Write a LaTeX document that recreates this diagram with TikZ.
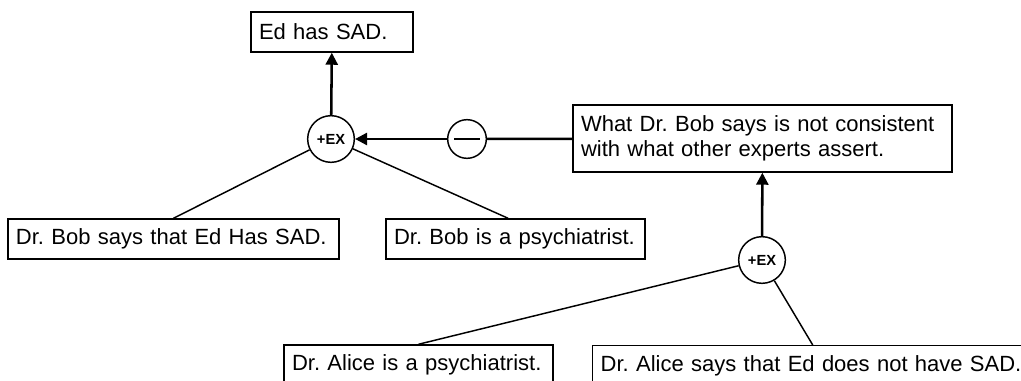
\documentclass[tikz,border=0pt]{standalone}
\usepackage{fontspec}
\setmainfont{Liberation Sans}
\usepackage{tikz}
\usetikzlibrary{positioning,shapes,arrows.meta}

\tikzset{
  claim/.style={draw, line width=1.1pt, rectangle, align=left, inner xsep=6pt,
    minimum height=30pt, font=\fontsize{16.5}{18.75}\selectfont\frenchspacing},
  plusex/.style={draw, circle, line width=1.1pt, fill=white, inner sep=0pt,
    minimum size=35pt, font=\fontsize{11}{12}\selectfont\bfseries},
  minus/.style={draw, circle, line width=1.1pt, fill=white, inner sep=0pt,
    minimum size=29pt, path picture={\draw[line width=1.1pt]
      ([xshift=-9.4pt]path picture bounding box.center) --
      ([xshift=9.4pt]path picture bounding box.center);}},
  support/.style={line width=1.9pt, -{Triangle[length=9pt,width=9pt]}},
  premise/.style={line width=1.1pt}
}

\begin{document}
\begin{tikzpicture}[x=0.75pt, y=-0.75pt]
        \clip (0,0) rectangle (1021,381);
        \useasboundingbox (0,0) rectangle (1021,381);

        % Affirmations
        \node[claim, text width=109.5pt] (ed) at (332,32) {Ed has SAD.};
        \node[claim, text width=272.25pt, minimum height=50.25pt] (cons) at (762.5,138.5)
          {What Dr. Bob says is not consistent\\with what other experts assert.};
        \node[claim, text width=236.25pt] (bobsays) at (173.5,239) {Dr. Bob says that Ed Has SAD.};
        \node[claim, text width=182.25pt] (bobpsy) at (515.5,239) {Dr. Bob is a psychiatrist.};
        \node[claim, text width=189.75pt] (alicepsy) at (418.5,365) {Dr. Alice is a psychiatrist.};
        \node[claim, text width=318pt, anchor=north west] (alicesays) at (592,345)
          {Dr. Alice says that Ed does not have SAD.};

        % Arguments
        \node[plusex] (exbob) at (331,139) {+EX};
        \node[plusex] (exalice) at (762,260) {+EX};
        \node[minus] (neg) at (467,139) {};

        % Liens
        \draw[support] (exbob) -- (ed);
        \draw[premise] (exbob) -- (bobsays.north);
        \draw[premise] (exbob) -- ([xshift=-5.6pt]bobpsy.north);
        \draw[line width=1.9pt] (cons) -- (neg);
        \draw[support] (neg) -- (exbob);
        \draw[support] (exalice) -- (cons);
        \draw[premise] (exalice) -- (alicepsy.north);
        \draw[premise] (exalice) -- (alicesays.north);
\end{tikzpicture}
\end{document}
